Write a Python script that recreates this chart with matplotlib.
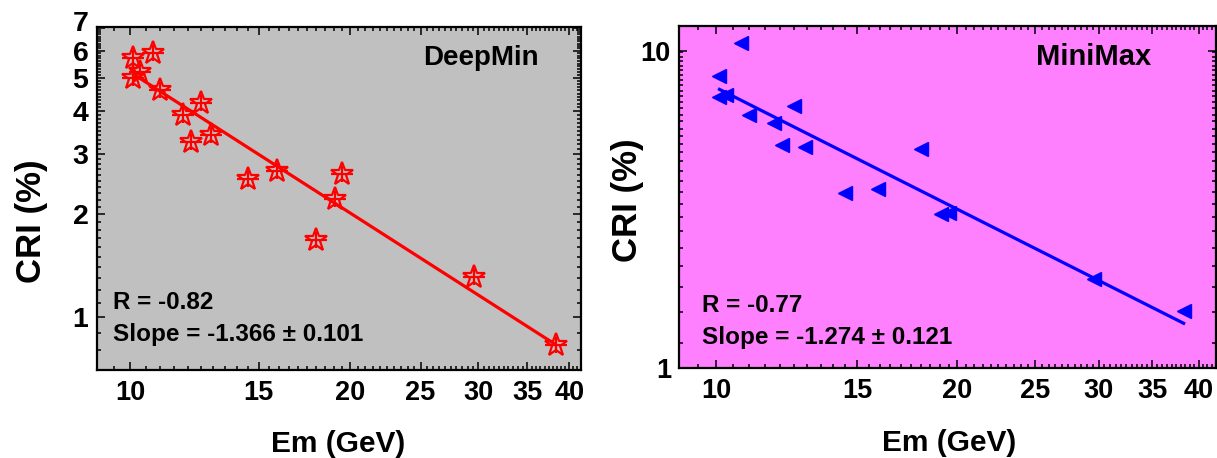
import numpy as np
import matplotlib.pyplot as plt
import matplotlib.transforms as mtr
from matplotlib.ticker import NullFormatter

plt.rcParams['font.family'] = ['Liberation Sans', 'DejaVu Sans']
plt.rcParams['font.weight'] = 'bold'
plt.rcParams['axes.labelweight'] = 'bold'

# Em (GeV), shared by both panels
em = np.array([10.1, 10.1, 10.3, 10.75, 11.0, 11.8, 12.1, 12.5, 12.9,
               14.5, 15.9, 18.0, 19.1, 19.5, 29.6, 38.3])
cri_deepmin = np.array([5.70, 5.01, 5.21, 5.92, 4.62, 3.90, 3.24, 4.21, 3.40,
                        2.53, 2.67, 1.68, 2.21, 2.62, 1.31, 0.826])
cri_minimax = np.array([8.34, 7.18, 7.27, 10.58, 6.28, 5.94, 5.06, 6.71, 4.99,
                        3.58, 3.67, 4.90, 3.06, 3.08, 1.91, 1.52])

# power-law fits: CRI = at10 * (Em/10)**slope
fit_deepmin = dict(slope=-1.366, at10=5.20)
fit_minimax = dict(slope=-1.274, at10=7.67)

x_ticks = [10, 15, 20, 25, 30, 35, 40]
y_ticks_deepmin = [1, 2, 3, 4, 5, 6, 7]
y_ticks_minimax = [1, 10]

fig = plt.figure(figsize=(12.17, 4.58), dpi=100)
ax1 = fig.add_axes([0.0795, 0.1921, 0.398, 0.7483])
ax2 = fig.add_axes([0.5582, 0.1959, 0.4408, 0.7474])


def style(ax, ylim, yticks, yminor, ysize):
    ax.set_xscale('log')
    ax.set_yscale('log')
    ax.set_ylim(*ylim)
    ax.set_xticks(x_ticks, labels=[str(t) for t in x_ticks])
    ax.set_xticks(np.arange(9.0, 42.0, 0.5), minor=True)
    ax.set_yticks(yticks, labels=[str(t) for t in yticks])
    ax.set_yticks(yminor, minor=True)
    ax.xaxis.set_minor_formatter(NullFormatter())
    ax.yaxis.set_minor_formatter(NullFormatter())
    ax.tick_params(which='both', direction='in', top=True, right=True, width=1.1)
    ax.tick_params(which='major', length=5.5)
    ax.tick_params(which='minor', length=3)
    ax.tick_params(axis='x', labelsize=19.5, pad=7)
    ax.tick_params(axis='y', labelsize=ysize, pad=6)
    for s in ax.spines.values():
        s.set_linewidth(1.6)


# DeepMin panel
ax1.set_facecolor('#c0c0c0')
ax1.plot(em, cri_deepmin, ls='none', marker='*', ms=17, mfc='none', mec='red', mew=1.6)
ax1.plot(em, cri_deepmin, ls='none', marker='_', ms=16, mec='red', mew=1.6)
ax1.plot(em, cri_deepmin, ls='none', marker='|', ms=12, mec='red', mew=1.6)
xf = np.array([em.min(), em.max()])
ax1.plot(xf, fit_deepmin['at10'] * (xf / 10) ** fit_deepmin['slope'], color='red', lw=2.3)
ax1.set_xlim(9, 41)
style(ax1, (0.7, 7.03), y_ticks_deepmin,
      [v for v in np.arange(0.8, 7.0, 0.1) if abs(v - round(v)) > 0.01], 20.5)
# top label "7" sits slightly above the frame in the reference
lab7 = ax1.get_yticklabels()[-1]
lab7.set_transform(lab7.get_transform() + mtr.ScaledTranslation(0, 5 / 72, fig.dpi_scale_trans))
ax1.text(0.7935, 0.91, 'DeepMin', transform=ax1.transAxes, ha='center', va='center', fontsize=20)
ax1.text(0.034, 0.197, 'R = -0.82', transform=ax1.transAxes, ha='left', va='center', fontsize=17.5)
ax1.text(0.034, 0.105, 'Slope = -1.366 \u00b1 0.101', transform=ax1.transAxes,
         ha='left', va='center', fontsize=17.5)
ax1.set_ylabel('CRI (%)', fontsize=25, va='center')
ax1.yaxis.set_label_coords(-0.134, 0.433)
ax1.set_xlabel('Em (GeV)', fontsize=21.5, va='center')
ax1.xaxis.set_label_coords(0.499, -0.216)

# MiniMax panel
ax2.set_facecolor('#ff80ff')
ax2.plot(em, cri_minimax, ls='none', marker='<', ms=9.5, mfc='blue', mec='blue')
ax2.plot(xf, fit_minimax['at10'] * (xf / 10) ** fit_minimax['slope'], color='blue', lw=2.3)
ax2.set_xlim(9, 42)
style(ax2, (1, 12), y_ticks_minimax, np.arange(1.2, 10.0, 0.3), 19.5)
ax2.text(0.772, 0.908, 'MiniMax', transform=ax2.transAxes, ha='center', va='center', fontsize=21)
ax2.text(0.042, 0.183, 'R = -0.77', transform=ax2.transAxes, ha='left', va='center', fontsize=17.5)
ax2.text(0.042, 0.089, 'Slope = -1.274 \u00b1 0.121', transform=ax2.transAxes,
         ha='left', va='center', fontsize=17.5)
ax2.set_ylabel('CRI (%)', fontsize=25, va='center')
ax2.yaxis.set_label_coords(-0.096, 0.492)
ax2.set_xlabel('Em (GeV)', fontsize=21.5, va='center')
ax2.xaxis.set_label_coords(0.503, -0.217)

fig.savefig('out.png', dpi=100)
